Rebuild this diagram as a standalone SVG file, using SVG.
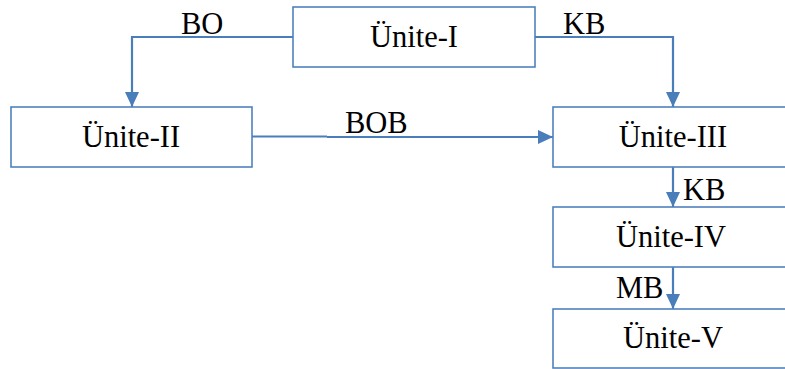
<svg xmlns="http://www.w3.org/2000/svg" width="785" height="369" viewBox="0 0 785 369">
  <style>
    .box { fill: #ffffff; stroke: #4f81bd; stroke-width: 1.6; }
    .edge { fill: none; stroke: #4a7ebb; stroke-width: 2.2; }
    .lbl { font-family: 'Liberation Serif', serif; font-size: 30.5px; fill: #000000; }
    .mid { text-anchor: middle; }
  </style>
  <defs>
    <marker id="arrow" viewBox="0 0 15 14" refX="15" refY="7" markerWidth="15" markerHeight="14" markerUnits="userSpaceOnUse" orient="auto">
      <path d="M0,0 L15,7 L0,14 Z" fill="#4a7ebb"/>
    </marker>
  </defs>
  <rect width="785" height="369" fill="#ffffff"/>

  <!-- flow arrows between the units -->
  <g id="connectors">
    <path class="edge" d="M293,37 H132 V107" marker-end="url(#arrow)"/>
    <path class="edge" d="M535,37 H673 V107" marker-end="url(#arrow)"/>
    <path class="edge" d="M252,136.5 H327 M327,137 H553" marker-end="url(#arrow)"/>
    <path class="edge" d="M673,167 V207" marker-end="url(#arrow)"/>
    <path class="edge" d="M673,267 V309" marker-end="url(#arrow)"/>
  </g>

  <g id="edge-labels">
    <text class="lbl" x="181" y="34">BO</text>
    <text class="lbl" x="563" y="34">KB</text>
    <text class="lbl" x="345" y="133">BOB</text>
    <text class="lbl" x="683" y="200">KB</text>
    <text class="lbl" x="616" y="298">MB</text>
  </g>

  <g id="unite-1">
    <rect class="box" x="293" y="7" width="242" height="60"/>
    <text class="lbl mid" x="414" y="47">Ünite-I</text>
  </g>
  <g id="unite-2">
    <rect class="box" x="11" y="107" width="241" height="60"/>
    <text class="lbl mid" x="131" y="147">Ünite-II</text>
  </g>
  <g id="unite-3">
    <rect class="box" x="553" y="107" width="240" height="60"/>
    <text class="lbl mid" x="673" y="147">Ünite-III</text>
  </g>
  <g id="unite-4">
    <rect class="box" x="553" y="207" width="240" height="60"/>
    <text class="lbl mid" x="671" y="247">Ünite-IV</text>
  </g>
  <g id="unite-5">
    <rect class="box" x="553" y="309" width="240" height="59"/>
    <text class="lbl mid" x="673" y="348">Ünite-V</text>
  </g>
</svg>
